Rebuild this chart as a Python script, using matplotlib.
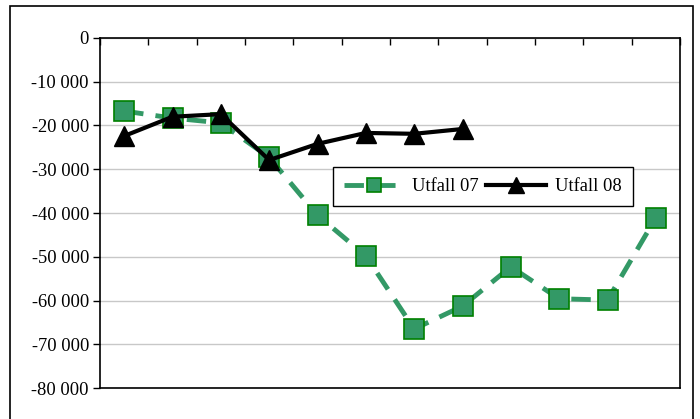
import matplotlib.pyplot as plt
from matplotlib.patches import Rectangle

plt.rcParams['font.family'] = ['Liberation Serif', 'DejaVu Serif']

months = list(range(1, 13))
utfall_07 = [-16700, -18300, -19400, -27300, -40500, -49800,
             -66500, -61300, -52300, -59600, -59900, -41100]
utfall_08 = [-22400, -18000, -17400, -27900, -24200, -21700, -21900, -20800]
yticks = list(range(0, -80001, -10000))

fig = plt.figure(figsize=(7, 4.19), dpi=100)
# outer chart frame (open at the bottom, like the cropped reference)
fig.patches.append(Rectangle((10 / 700, -0.05), 683 / 700, 1.05 - 6 / 419,
                             transform=fig.transFigure, fill=False,
                             edgecolor='black', linewidth=1.2))

ax = fig.add_axes([100 / 700, 1 - 388 / 419, 580 / 700, 350 / 419])

ax.plot(months, utfall_07, color='#339966', linestyle=(0, (4, 2.5)), linewidth=3.5,
        marker='s', markersize=14, markerfacecolor='#339966',
        markeredgecolor='#008000', markeredgewidth=1.2, label='Utfall 07', zorder=3)
ax.plot(months[:len(utfall_08)], utfall_08, color='black', linewidth=3,
        marker='^', markersize=15, label='Utfall 08', zorder=4)

ax.set_xlim(0.5, 12.5)
ax.set_ylim(-80000, 0)
ax.set_yticks(yticks)
ax.set_yticklabels(['0' if v == 0 else '-{:,}'.format(-v).replace(',', ' ') for v in yticks])
ax.yaxis.grid(True, color='#c8c8c8', linewidth=1)
ax.set_axisbelow(True)

ax.set_xticks([m - 0.5 for m in months] + [12.5])
ax.xaxis.tick_top()
ax.tick_params(axis='x', direction='in', length=5, labeltop=False, width=1)
ax.tick_params(axis='y', direction='out', length=5, labelsize=13.3, width=1, pad=3)
for s in ax.spines.values():
    s.set_linewidth(1.2)

ax.legend(loc='upper left', bbox_to_anchor=(233 / 580, 1 - 129 / 350), ncol=2,
          frameon=True, fancybox=False, edgecolor='black', fontsize=13.3,
          handlelength=3.25, handletextpad=0.45, columnspacing=0.4,
          borderpad=0.6, borderaxespad=0, markerscale=0.75, framealpha=1)

fig.savefig('out.png', dpi=100)
